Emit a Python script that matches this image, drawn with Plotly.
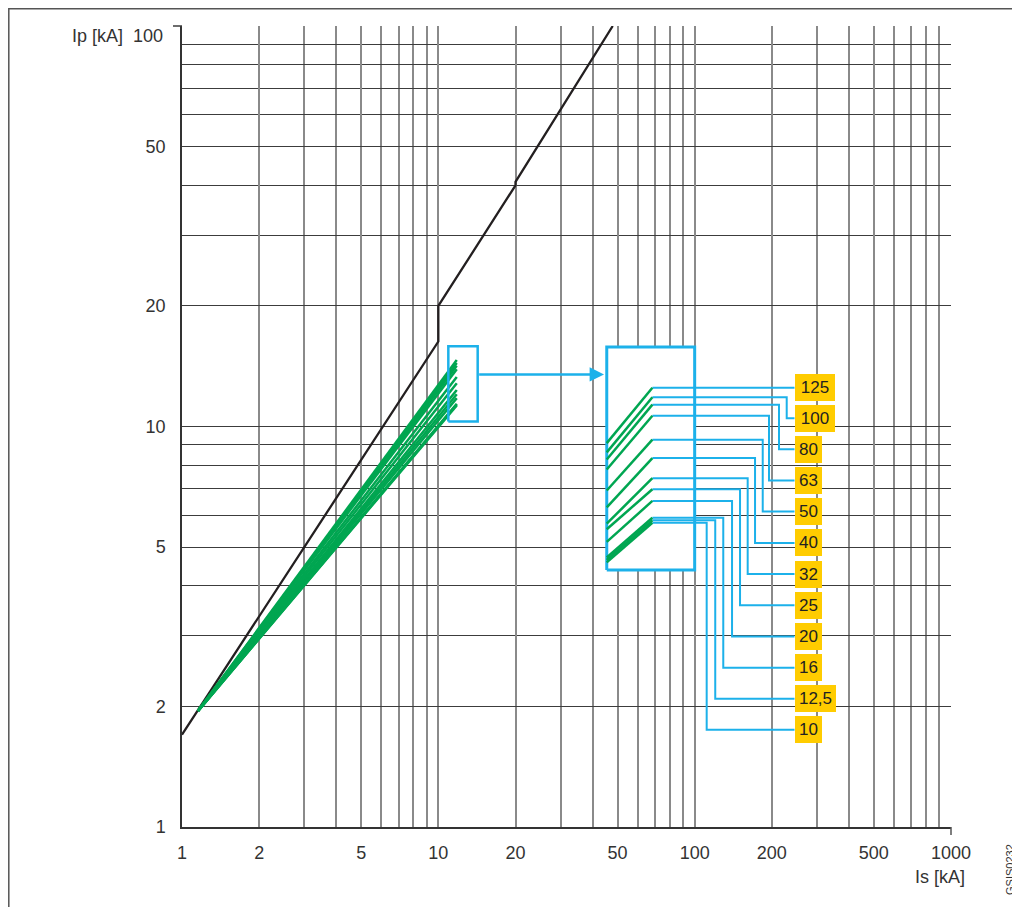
import math
import plotly.graph_objects as go

# ---------------- data ----------------
x_ticks = [1, 2, 5, 10, 20, 50, 100, 200, 500, 1000]
x_minor = [3, 4, 6, 7, 8, 9, 30, 40, 60, 70, 80, 90, 300, 400, 600, 700, 800, 900]
y_ticks = [1, 2, 5, 10, 20, 50]
y_minor = [3, 4, 6, 7, 8, 9, 30, 40, 60, 70, 80, 90, 100]

# limit curve (black)
black_is = [1, 10, 10, 20, 20, 47.9]
black_ip = [1.7, 16.3, 20, 40, 40.8, 100]

# rated values and their curves (green)
ratings = ["125", "100", "80", "63", "50", "40", "32", "25", "20", "16", "12,5", "10"]
green_start_is = 1.155
green_start_ip = 1.95
green_end_is = 11.8
green_end_ip = [14.66, 14.4, 14.19, 13.9, 13.29, 12.82, 12.33, 12.04, 11.77, 11.4, 11.35, 11.29]

# zoom window and magnified inset
zoom_box_is = [10.94, 14.24]
zoom_box_ip = [10.29, 15.86]
inset_box_is = [45.4, 100]
inset_box_ip = [4.385, 15.8]
inset_left_is = 45.4
inset_knee_is = 68.4
inset_left_ip = [9.09, 8.62, 8.27, 7.81, 6.92, 6.28, 5.72, 5.54, 5.15, 4.71, 4.64, 4.58]
inset_knee_ip = [12.5, 11.83, 11.34, 10.64, 9.27, 8.34, 7.43, 6.97, 6.52, 5.92, 5.83, 5.75]
leader_turn_is = [245.2, 228.6, 213.3, 195, 184.3, 172, 161, 150.3, 139.9, 129.3, 120.3, 111.4]
label_is = 245.2
label_ip = [12.5, 10.49, 8.77, 7.33, 6.13, 5.12, 4.28, 3.58, 2.99, 2.50, 2.09, 1.748]
arrow_is = [14.24, 44.3]
arrow_ip = 13.49

# ---------------- styles ----------------
FONT = "Liberation Sans, Arial, sans-serif"
TXT = "#333333"
BLACK = "#231f20"
GREEN = "#00a651"
BLUE = "#1cb1ea"
YELLOW = "#ffcc00"

fig = go.Figure()

fig.add_trace(go.Scatter(x=black_is, y=black_ip, mode="lines",
                         line=dict(color=BLACK, width=2.3), hoverinfo="skip"))

for yv in green_end_ip:
    fig.add_trace(go.Scatter(x=[green_start_is, green_end_is], y=[green_start_ip, yv],
                             mode="lines", line=dict(color=GREEN, width=2.5),
                             hoverinfo="skip"))

# zoom window
fig.add_trace(go.Scatter(
    x=[zoom_box_is[0], zoom_box_is[1], zoom_box_is[1], zoom_box_is[0], zoom_box_is[0]],
    y=[zoom_box_ip[0], zoom_box_ip[0], zoom_box_ip[1], zoom_box_ip[1], zoom_box_ip[0]],
    mode="lines", line=dict(color=BLUE, width=2.5), hoverinfo="skip"))

# inset box (white filled)
fig.add_trace(go.Scatter(
    x=[inset_box_is[0], inset_box_is[1], inset_box_is[1], inset_box_is[0], inset_box_is[0]],
    y=[inset_box_ip[0], inset_box_ip[0], inset_box_ip[1], inset_box_ip[1], inset_box_ip[0]],
    mode="lines", fill="toself", fillcolor="white",
    line=dict(color=BLUE, width=3), hoverinfo="skip"))

# leader lines
for i in range(len(ratings)):
    fig.add_trace(go.Scatter(
        x=[inset_knee_is, leader_turn_is[i], leader_turn_is[i], label_is],
        y=[inset_knee_ip[i], inset_knee_ip[i], label_ip[i], label_ip[i]],
        mode="lines", line=dict(color=BLUE, width=2), hoverinfo="skip"))

# inset green segments
for i in range(len(ratings)):
    fig.add_trace(go.Scatter(
        x=[inset_left_is, inset_knee_is], y=[inset_left_ip[i], inset_knee_ip[i]],
        mode="lines", line=dict(color=GREEN, width=2.5), hoverinfo="skip"))

annotations = []
# arrow
annotations.append(dict(
    x=math.log10(arrow_is[1]), y=math.log10(arrow_ip),
    ax=math.log10(arrow_is[0]), ay=math.log10(arrow_ip),
    xref="x", yref="y", axref="x", ayref="y", text="", showarrow=True,
    arrowhead=2, arrowsize=1.15, arrowwidth=2.5, arrowcolor=BLUE, standoff=0))

# rating labels
for i, lab in enumerate(ratings):
    w = 23 if len(lab) == 2 else (37 if len(lab) == 4 else 36)
    annotations.append(dict(
        x=math.log10(label_is), y=math.log10(label_ip[i]), xref="x", yref="y",
        text=lab, showarrow=False, xanchor="left", yanchor="middle",
        bgcolor=YELLOW, borderwidth=0, borderpad=2, width=w, height=23,
        font=dict(family=FONT, size=17, color="#222222")))

annotations.append(dict(x=(165 - 182) / 769, y=(827 - 35.5) / 801, xref="paper", yref="paper",
                        text="Ip [kA]  100", showarrow=False, xanchor="right", yanchor="middle",
                        font=dict(family=FONT, size=18, color=TXT)))
annotations.append(dict(x=(940 - 182) / 769, y=(827 - 877) / 801, xref="paper", yref="paper",
                        text="Is [kA]", showarrow=False, xanchor="center", yanchor="middle",
                        font=dict(family=FONT, size=18, color=TXT)))
annotations.append(dict(x=(1010 - 182) / 769, y=(827 - 869) / 801, xref="paper", yref="paper",
                        text="GSIS0232", showarrow=False, textangle=-90,
                        xanchor="center", yanchor="middle",
                        font=dict(family=FONT, size=11, color=TXT)))

shapes = [
    dict(type="rect", xref="paper", yref="paper",
         x0=(8.8 - 182) / 769, x1=(1019 - 182) / 769, y0=(827 - 960) / 801, y1=(827 - 8.8) / 801,
         line=dict(color="#555555", width=1.5), layer="above"),
    dict(type="line", xref="paper", yref="paper", x0=(173 - 182) / 769, x1=0, y0=1, y1=1,
         line=dict(color="#3c3c3c", width=1.5)),
    dict(type="line", xref="paper", yref="paper", x0=1, x1=1, y0=(827 - 835) / 801, y1=0,
         line=dict(color="#555555", width=1.5)),
]

# the page adds an 8 px body margin; plot area sits at page x 182..951, y 26..827
fig.update_layout(
    width=1012, height=899,
    margin=dict(l=174, r=69, t=18, b=80),
    paper_bgcolor="white", plot_bgcolor="white",
    showlegend=False,
    font=dict(family=FONT, size=18, color=TXT),
    annotations=annotations, shapes=shapes,
    xaxis=dict(type="log", range=[0, 3], tickmode="array", tickvals=x_ticks,
               ticktext=[str(v) for v in x_ticks], ticks="", showgrid=True,
               gridcolor="#8a8a8a", gridwidth=1.5,
               minor=dict(tickmode="array", tickvals=x_minor, showgrid=True,
                          gridcolor="#8a8a8a", gridwidth=1.5, ticks=""),
               showline=True, linecolor="#333333", linewidth=1.5,
               ticklabelstandoff=9, zeroline=False,
               tickfont=dict(family=FONT, size=18, color=TXT)),
    yaxis=dict(type="log", range=[0, 2], tickmode="array", tickvals=y_ticks,
               ticktext=[str(v) for v in y_ticks], ticks="", showgrid=True,
               gridcolor="#3c3c3c", gridwidth=1.4,
               minor=dict(tickmode="array", tickvals=y_minor, showgrid=True,
                          gridcolor="#3c3c3c", gridwidth=1.4, ticks=""),
               showline=True, linecolor="#333333", linewidth=1.5,
               ticklabelstandoff=11, zeroline=False,
               tickfont=dict(family=FONT, size=18, color=TXT)),
)

fig.write_html("out.html")
